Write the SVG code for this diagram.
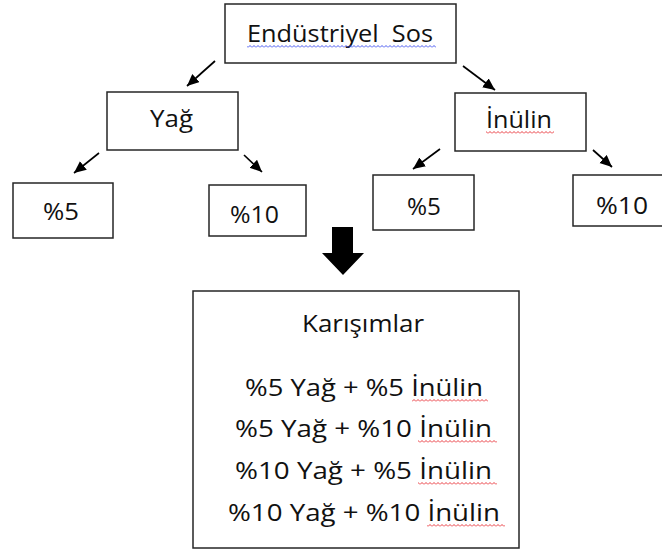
<svg xmlns="http://www.w3.org/2000/svg" width="662" height="552" viewBox="0 0 662 552">
<style>
.box{fill:#fff;stroke:#262626;stroke-width:1.5}
.t{font-family:"Open Sans","Liberation Sans",sans-serif;font-size:24px;fill:#111}
.c{stroke:#000;stroke-width:1.7;fill:none;marker-end:url(#ah)}
</style>
<defs>
<marker id="ah" markerUnits="userSpaceOnUse" markerWidth="13" markerHeight="12" refX="12" refY="5.5" orient="auto">
<path d="M0,0 L12,5.5 L0,11 z" fill="#000"/>
</marker>
<pattern id="wr" width="4" height="3" patternUnits="userSpaceOnUse"><path d="M0,2.5 L2,0.5 L4,2.5" fill="none" stroke="#e8262b" stroke-width="0.9"/></pattern>
<pattern id="wb" width="4" height="3" patternUnits="userSpaceOnUse"><path d="M0,2.5 L2,0.5 L4,2.5" fill="none" stroke="#3344ee" stroke-width="0.9"/></pattern>
</defs>
<rect width="662" height="552" fill="#fff"/>
<g id="connectors">
<line class="c" x1="215" y1="61" x2="187" y2="86"/>
<line class="c" x1="463" y1="66" x2="495" y2="90"/>
<line class="c" x1="99" y1="153" x2="74" y2="173"/>
<line class="c" x1="244" y1="155" x2="262" y2="172"/>
<line class="c" x1="440" y1="149" x2="413" y2="169"/>
<line class="c" x1="593" y1="150" x2="612" y2="167"/>
<polygon points="332,227 353,227 353,253 364,253 343,275 322,253 332,253" fill="#000"/>
</g>
<g id="endustriyel-sos">
<rect class="box" x="225" y="4" width="231" height="59"/>
<text class="t" x="247" y="42" textLength="186" lengthAdjust="spacingAndGlyphs">Endüstriyel&#160; Sos</text>
<rect x="247" y="0" width="189" height="3" fill="url(#wb)" transform="translate(0,45)"/>
</g>
<g id="yag">
<rect class="box" x="107" y="92" width="131" height="58"/>
<text class="t" x="150" y="127" textLength="43" lengthAdjust="spacingAndGlyphs">Yağ</text>
</g>
<g id="inulin">
<rect class="box" x="455" y="93" width="131" height="58"/>
<text class="t" x="486" y="128" textLength="66" lengthAdjust="spacingAndGlyphs">İnülin</text>
<rect x="486" y="0" width="68" height="3" fill="url(#wr)" transform="translate(0,131)"/>
</g>
<g id="yag-5">
<rect class="box" x="13" y="183" width="100" height="55"/>
<text class="t" x="43" y="220" textLength="36" lengthAdjust="spacingAndGlyphs">%5</text>
</g>
<g id="yag-10">
<rect class="box" x="209" y="185" width="97" height="51"/>
<text class="t" x="230" y="223" textLength="49" lengthAdjust="spacingAndGlyphs">%10</text>
</g>
<g id="inulin-5">
<rect class="box" x="373" y="175" width="101" height="55"/>
<text class="t" x="407" y="215" textLength="34" lengthAdjust="spacingAndGlyphs">%5</text>
</g>
<g id="inulin-10">
<rect class="box" x="573" y="175" width="100" height="51"/>
<text class="t" x="596" y="214" textLength="52" lengthAdjust="spacingAndGlyphs">%10</text>
</g>
<g id="karisimlar">
<rect class="box" x="193" y="291" width="326" height="257"/>
<text class="t" x="302" y="332" textLength="122" lengthAdjust="spacingAndGlyphs">Karışımlar</text>
<text class="t" x="245" y="396" textLength="238" lengthAdjust="spacingAndGlyphs">%5 Yağ + %5 İnülin</text>
<text class="t" x="235" y="437" textLength="257" lengthAdjust="spacingAndGlyphs">%5 Yağ + %10 İnülin</text>
<text class="t" x="235" y="479" textLength="257" lengthAdjust="spacingAndGlyphs">%10 Yağ + %5 İnülin</text>
<text class="t" x="228" y="521" textLength="272" lengthAdjust="spacingAndGlyphs">%10 Yağ + %10 İnülin</text>
<rect x="412" y="0" width="76" height="3" fill="url(#wr)" transform="translate(0,399)"/>
<rect x="418" y="0" width="79" height="3" fill="url(#wr)" transform="translate(0,440)"/>
<rect x="418" y="0" width="79" height="3" fill="url(#wr)" transform="translate(0,482)"/>
<rect x="427" y="0" width="78" height="3" fill="url(#wr)" transform="translate(0,524)"/>
</g>
</svg>
